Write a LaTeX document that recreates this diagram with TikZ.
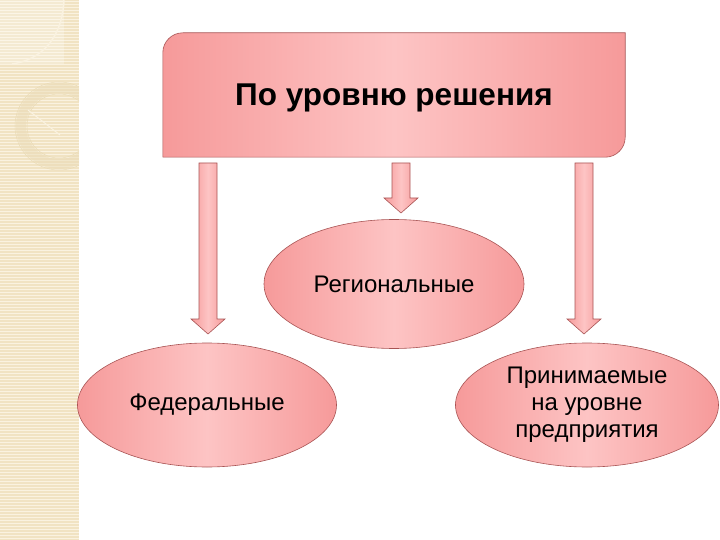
\documentclass[tikz,border=0pt]{standalone}
\usepackage{fontspec}
\setmainfont{Liberation Sans}
\usetikzlibrary{shapes.geometric,calc}

\definecolor{pinkedge}{HTML}{F69A9A}
\definecolor{pinkmid}{HTML}{FDC4C4}
\definecolor{rimred}{HTML}{A85454}
\definecolor{stripbg}{HTML}{F1E3C3}
\definecolor{stripline}{HTML}{FAF2E0}
\definecolor{stripdeco}{HTML}{EADBB6}

\tikzset{
  pinkfill/.style={left color=pinkedge, right color=pinkedge, middle color=pinkmid},
  oval/.style={ellipse, draw=rimred, line width=0.6pt, pinkfill, inner sep=0pt,
    minimum width=260pt, minimum height=126pt, align=center,
    font=\fontsize{24}{27}\selectfont},
  blockarrow/.style={draw=rimred, line width=0.6pt, pinkfill},
  titlebox/.style={minimum width=462pt, minimum height=124pt, inner sep=0pt},
  titletext/.style={font=\bfseries\fontsize{31.5}{36}\selectfont}
}

% block arrow going down from #1 to the tip #2
\newcommand{\downblock}[2]{%
  \path[blockarrow] ($(#1)+(-9,0)$) -- ($(#1)+(9,0)$) -- ($(#2)+(9,-15)$)
    -- ($(#2)+(17,-15)$) -- (#2) -- ($(#2)+(-17,-15)$) -- ($(#2)+(-9,-15)$) -- cycle;}

\begin{document}
\begin{tikzpicture}[x=1pt,y=-1pt]
  \useasboundingbox (0,0) rectangle (720,540);

  % Left strip
  \fill[stripbg] (0,0) rectangle (79,540);
  \foreach \y in {1.5,4.5,...,540}
    \draw[stripline, line width=0.8pt] (0,\y) -- (79,\y);
  \begin{scope}
    \clip (0,0) rectangle (79,540);
    \fill[white, opacity=0.25] (0,0) rectangle (64,64);
    \draw[stripline, line width=1.5pt] (64,0) .. controls (62,40) and (40,60) .. (12,64);
    \draw[stripdeco, line width=10pt, opacity=0.5] (59,126) circle[radius=38pt];
    \draw[stripdeco, line width=0.5pt] (59,126) circle[radius=44pt];
    \draw[stripdeco, line width=0.5pt] (59,126) circle[radius=32pt];
    \draw[stripline, line width=1pt] (28,110) -- (60,135);
  \end{scope}

  % Title box
  \node[titlebox] (title) at (394,95) {};
  \path[draw=rimred, line width=0.6pt, pinkfill]
    (title.south west) -- ([yshift=-20pt]title.north west)
    arc[start angle=180, end angle=90, radius=20pt]
    -- (title.north east) -- ([yshift=20pt]title.south east)
    arc[start angle=0, end angle=-90, radius=20pt] -- cycle;
  \node[titletext] (titlelabel) at ([yshift=-3pt]title.center) {По уровню решения};

  % Arrows
  \coordinate (fedtop) at (208,163);
  \coordinate (fedtip) at (208,334);
  \coordinate (regtop) at (401,163);
  \coordinate (regtip) at (401,213);
  \coordinate (enttop) at (584,163);
  \coordinate (enttip) at (584,334);
  \downblock{fedtop}{fedtip}
  \downblock{regtop}{regtip}
  \downblock{enttop}{enttip}

  % Ellipses
  \node[oval, minimum height=129pt] (reg) at (394,284) {Региональные};
  \node[oval, minimum width=259pt, minimum height=124pt] (fed) at (207,405) {Федеральные};
  \node[oval, minimum width=263pt, minimum height=124pt] (ent) at (587,405)
    {Принимаемые\\на уровне\\предприятия};
\end{tikzpicture}
\end{document}
